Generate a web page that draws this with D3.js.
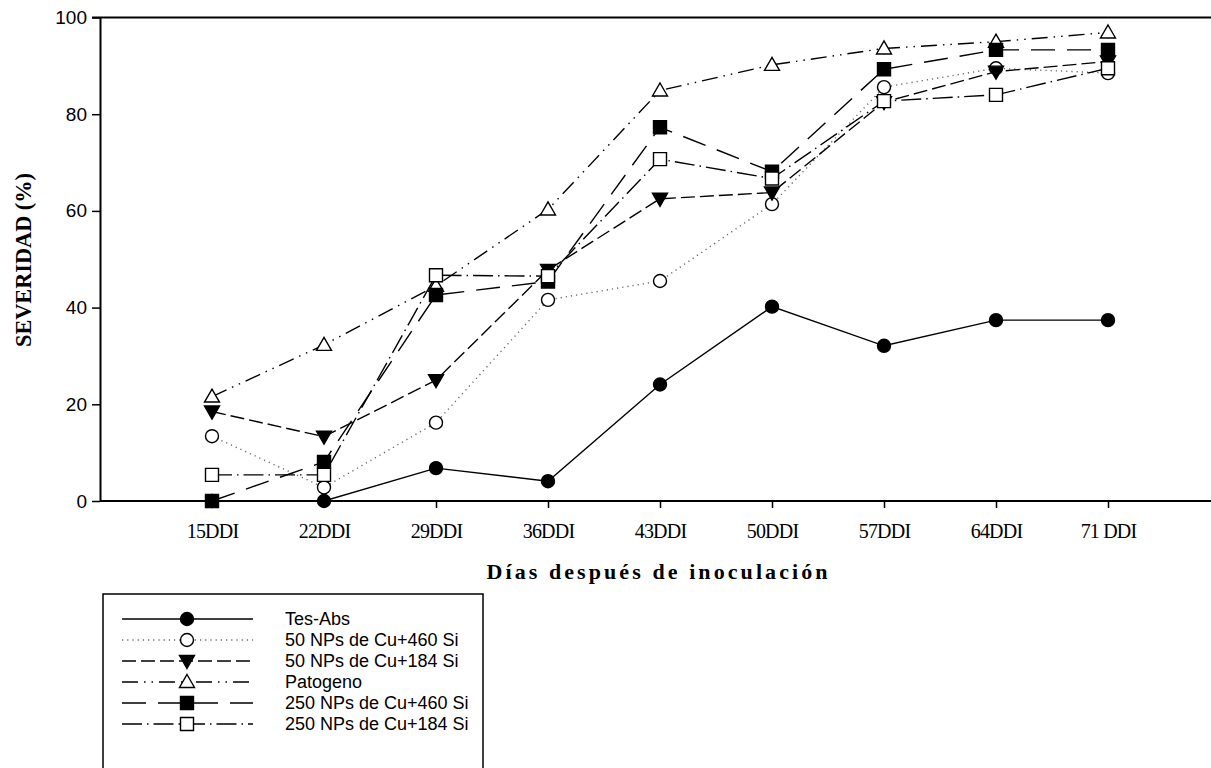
<!DOCTYPE html>
<html>
<head>
<meta charset="utf-8">
<script src="https://cdnjs.cloudflare.com/ajax/libs/d3/7.8.5/d3.min.js"></script>
<style>
  body { margin: 0; background: #fff; }
  svg { display: block; }
</style>
</head>
<body>
<div id="container"></div>
<script>
const width = 1211;
const height = 768;

// categories + tick values
const categories = ["15DDI", "22DDI", "29DDI", "36DDI", "43DDI", "50DDI", "57DDI", "64DDI", "71 DDI"];
const yTicks = [0, 20, 40, 60, 80, 100];

// severity values (%)
const tesAbs     = [0, 0, 6.8, 4.1, 24.1, 40.2, 32.1, 37.4, 37.4];
const np50Si460  = [13.4, 2.8, 16.2, 41.6, 45.5, 61.4, 85.6, 89.5, 88.5];
const np50Si184  = [18.5, 13.3, 25.0, 47.8, 62.5, 63.8, 82.5, 88.8, 90.9];
const patogeno   = [21.6, 32.3, 44.5, 60.3, 84.9, 90.2, 93.6, 95.0, 96.9];
const np250Si460 = [0, 8.1, 42.6, 45.4, 77.3, 68.1, 89.3, 93.3, 93.3];
const np250Si184 = [5.4, 5.4, 46.7, 46.5, 70.7, 66.7, 82.7, 84.0, 89.5];

const seriesNames = ["Tes-Abs", "50 NPs de Cu+460 Si", "50 NPs de Cu+184 Si", "Patogeno", "250 NPs de Cu+460 Si", "250 NPs de Cu+184 Si"];
const seriesValues = [tesAbs, np50Si460, np50Si184, patogeno, np250Si460, np250Si184];

// how each series is drawn (line dash + marker)
const seriesStyle = [
  { dash: null,                 stroke: "#000", marker: "circle",   fill: "#000" },
  { dash: "1.2,4",              stroke: "#666", marker: "circle",   fill: "#fff" },
  { dash: "14,5",               stroke: "#000", marker: "triDown",  fill: "#000" },
  { dash: "16,6,1.5,6,1.5,6",   stroke: "#000", marker: "triUp",    fill: "#fff" },
  { dash: "24,12",              stroke: "#000", marker: "square",   fill: "#000" },
  { dash: "20,5,1.5,5",         stroke: "#000", marker: "square",   fill: "#fff" }
];

const margin = { left: 100, top: 17.5, bottom: 501 };

const x = d3.scalePoint()
  .domain(categories)
  .range([212, 1108]);

const y = d3.scaleLinear()
  .domain([0, 100])
  .range([margin.bottom, margin.top]);

const svg = d3.select("#container").append("svg")
  .attr("width", width)
  .attr("height", height);

function markerPath(type) {
  const p = d3.path();
  if (type == "circle") {
    p.arc(0, 0, 6.5, 0, 2 * Math.PI);
  } else if (type == "square") {
    p.rect(-6.5, -6.5, 13, 13);
  } else if (type == "triUp") {
    p.moveTo(0, -7.5); p.lineTo(7.5, 5.5); p.lineTo(-7.5, 5.5); p.closePath();
  } else {
    p.moveTo(0, 7.5); p.lineTo(7.5, -5.5); p.lineTo(-7.5, -5.5); p.closePath();
  }
  return p.toString();
}

// y axis
const yAxis = svg.append("g")
  .attr("transform", `translate(${margin.left},0)`)
  .call(d3.axisLeft(y).tickValues(yTicks).tickSize(8).tickPadding(5).tickSizeOuter(0));
yAxis.select(".domain").attr("stroke-width", 2);
yAxis.selectAll(".tick line").attr("stroke-width", 1.5);
yAxis.selectAll("text")
  .attr("font-family", "'Liberation Sans', Arial, sans-serif")
  .attr("font-size", 19)
  .attr("fill", "#000");

// x axis
const xAxis = svg.append("g")
  .attr("transform", `translate(0,${margin.bottom})`)
  .call(d3.axisBottom(x).tickSize(7).tickPadding(16));
xAxis.select(".domain").remove();
xAxis.selectAll(".tick line").attr("stroke-width", 1.5);
xAxis.selectAll("text")
  .attr("font-family", "'Liberation Serif', 'Times New Roman', serif")
  .attr("font-size", 20)
  .attr("letter-spacing", -0.8)
  .attr("fill", "#000");

// frame lines (bottom + top)
svg.append("line")
  .attr("x1", margin.left).attr("x2", width)
  .attr("y1", margin.bottom).attr("y2", margin.bottom)
  .attr("stroke", "#000").attr("stroke-width", 2);
svg.append("line")
  .attr("x1", margin.left - 8).attr("x2", width)
  .attr("y1", margin.top).attr("y2", margin.top)
  .attr("stroke", "#000").attr("stroke-width", 2);

// axis titles
svg.append("text")
  .attr("x", 657)
  .attr("y", 579)
  .attr("text-anchor", "middle")
  .attr("font-family", "'Liberation Serif', 'Times New Roman', serif")
  .attr("font-weight", "bold")
  .attr("font-size", 22)
  .attr("textLength", 341)
  .attr("lengthAdjust", "spacing")
  .text("Días después de inoculación");

svg.append("text")
  .attr("transform", "translate(31,260) rotate(-90)")
  .attr("text-anchor", "middle")
  .attr("font-family", "'Liberation Serif', 'Times New Roman', serif")
  .attr("font-weight", "bold")
  .attr("font-size", 24)
  .attr("textLength", 174)
  .attr("lengthAdjust", "spacingAndGlyphs")
  .text("SEVERIDAD (%)");

// series
const line = d3.line()
  .x((d, i) => x(categories[i]))
  .y(d => y(d));

seriesValues.forEach((vals, s) => {
  const st = seriesStyle[s];
  const g = svg.append("g");
  g.append("path")
    .datum(vals)
    .attr("d", line)
    .attr("fill", "none")
    .attr("stroke", st.stroke)
    .attr("stroke-width", 1.4)
    .attr("stroke-dasharray", st.dash);
  g.selectAll("path.mk")
    .data(vals)
    .join("path")
    .attr("class", "mk")
    .attr("transform", (d, i) => `translate(${x(categories[i])},${y(d)})`)
    .attr("d", markerPath(st.marker))
    .attr("fill", st.fill)
    .attr("stroke", "#000")
    .attr("stroke-width", 1.4);
});

// legend
const legend = svg.append("g");
legend.append("rect")
  .attr("x", 103).attr("y", 594)
  .attr("width", 380).attr("height", 220)
  .attr("fill", "none")
  .attr("stroke", "#000")
  .attr("stroke-width", 1.5);

const legendY = d3.scaleLinear().domain([0, 5]).range([619, 724]);

seriesNames.forEach((name, s) => {
  const st = seriesStyle[s];
  const ly = legendY(s);
  legend.append("line")
    .attr("x1", 122).attr("x2", 253)
    .attr("y1", ly).attr("y2", ly)
    .attr("stroke", st.stroke)
    .attr("stroke-width", 1.4)
    .attr("stroke-dasharray", st.dash);
  legend.append("path")
    .attr("transform", `translate(187,${ly})`)
    .attr("d", markerPath(st.marker))
    .attr("fill", st.fill)
    .attr("stroke", "#000")
    .attr("stroke-width", 1.4);
  legend.append("text")
    .attr("x", 285)
    .attr("y", ly + 6)
    .attr("font-family", "'Liberation Sans', Arial, sans-serif")
    .attr("font-size", 18)
    .attr("fill", "#000")
    .text(name);
});
</script>
</body>
</html>
